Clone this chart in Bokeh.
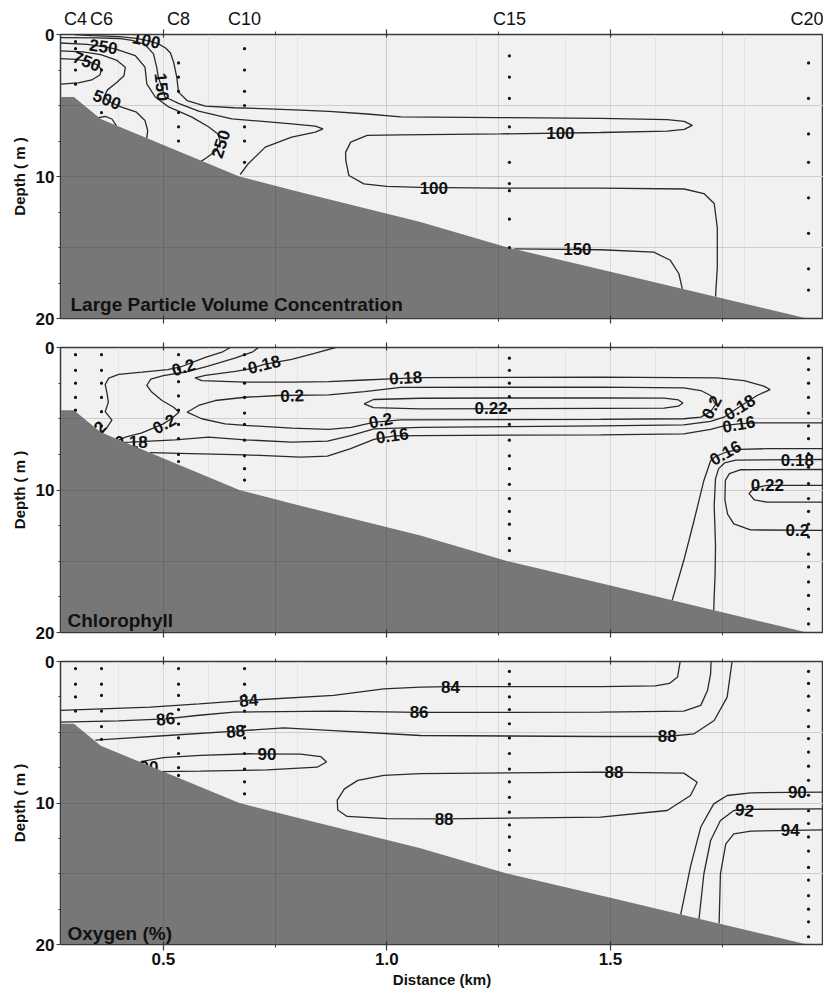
from bokeh.plotting import figure
from bokeh.models import Range1d, FixedTicker, LinearAxis, Label, Grid, NumeralTickFormatter
from bokeh.layouts import column
from bokeh.embed import file_html
from bokeh.resources import INLINE
from bokeh.core.properties import value

# ------------------------------------------------------------------ data
X_START, X_END = 0.27, 1.9765
DEPTH_MAX = 20

STATION_NAMES = ["C4", "C6", "C8", "C10", "C15", "C20"]
STATION_KM = [0.3036, 0.3617, 0.534, 0.6816, 1.274, 1.943]

BATHY_KM = [0.26, 0.30, 0.36, 0.67, 0.80, 1.075, 1.27, 1.50, 1.94, 1.99]
BATHY_DEPTH = [4.4, 4.4, 5.95, 10.0, 11.05, 13.2, 15.0, 16.7, 20.0, 20.0]

X_TICKS = [0.5, 1.0, 1.5]
X_MINOR = [0.25, 0.75, 1.25, 1.75]
X_GRID = [0.5, 0.75, 1.0, 1.25, 1.5, 1.75]
DEPTH_TICKS = [0, 10, 20]
DEPTH_MINOR = [2.5, 5, 7.5, 12.5, 15, 17.5]
DEPTH_GRID = [5, 10, 15]

# sampling depths at each station (same order as STATION_NAMES)
P1_STATION_DEPTHS = [
    [0.5, 1.0, 2.5, 3.5],
    [2.5, 5.5],
    [2.0, 3.0, 4.0, 5.5, 6.5, 7.5],
    [1.0, 2.5, 4.0, 5.0, 6.5, 7.5, 9.0],
    [1.5, 3.0, 4.5, 6.5, 9.0, 10.5, 11.0, 13.0, 15.0],
    [2.0, 4.5, 7.0, 9.0, 11.5, 14.0, 16.5, 18.0]]
P2_STATION_DEPTHS = [
    [0.5, 1.6, 2.5, 3.5, 4.4],
    [0.5, 1.6, 2.5, 3.5, 4.5, 5.5],
    [0.5, 1.5, 2.4, 3.4, 4.4, 5.4, 6.4, 7.5, 8.0],
    [0.5, 1.5, 2.5, 3.5, 4.6, 5.4, 6.5, 7.6, 8.5, 9.3],
    [0.75, 1.6, 2.5, 3.45, 4.4, 5.4, 6.5, 7.6, 8.5, 9.6, 10.6, 11.5, 12.4, 13.4, 14.25],
    [0.75, 1.55, 2.5, 3.5, 4.6, 5.5, 6.4, 7.45, 8.4, 9.55, 10.6, 11.5, 12.4, 13.3, 14.5,
     15.4, 16.45, 17.4, 18.35, 19.4]]
P3_STATION_DEPTHS = [
    [0.5, 1.6, 2.5, 3.5],
    [0.5, 1.6, 2.4, 3.5, 4.6, 5.5],
    [0.5, 1.6, 2.4, 3.4, 4.4, 5.4, 6.5, 7.5, 8.05],
    [0.5, 1.6, 2.4, 3.5, 4.6, 5.4, 6.5, 7.6, 8.5, 9.35],
    [0.7, 1.6, 2.5, 3.4, 4.4, 5.4, 6.5, 7.6, 8.5, 9.6, 10.65, 11.55, 12.4, 13.35, 14.35],
    [0.7, 1.55, 2.45, 3.45, 4.6, 5.45, 6.4, 7.4, 8.4, 9.45, 10.55, 11.45, 12.4, 13.4, 14.55,
     15.45, 16.55, 17.5, 18.4, 19.45]]

# ---- Large particle volume concentration isolines (km, depth m)
P1_100 = [(0.30, 0.0), (0.34, 0.08), (0.40, 0.15), (0.44, 0.27), (0.47, 0.47), (0.489, 0.66),
          (0.505, 0.95), (0.516, 1.3), (0.523, 1.95), (0.53, 3.0), (0.534, 4.06), (0.553, 4.65),
          (0.594, 5.05), (0.658, 5.16), (0.72, 5.22), (0.807, 5.33), (0.87, 5.42), (0.956, 5.6),
          (1.031, 5.8), (1.25, 5.85), (1.478, 5.9), (1.627, 6.0), (1.665, 6.12), (1.683, 6.4),
          (1.665, 6.68), (1.627, 6.8), (1.478, 6.9), (1.254, 7.0), (1.031, 7.07), (0.956, 7.1),
          (0.919, 7.58), (0.9076, 8.3), (0.908, 8.87), (0.915, 9.93), (0.9486, 10.52),
          (1.0, 10.7), (1.075, 10.77), (1.25, 10.82), (1.478, 10.82), (1.665, 10.88),
          (1.709, 11.2), (1.732, 11.9), (1.739, 13.6), (1.739, 16.4), (1.735, 18.46)]
P1_150_A = [(0.27, 0.22), (0.35, 0.24), (0.40, 0.28), (0.43, 0.42), (0.459, 0.7), (0.478, 1.36),
            (0.485, 2.3), (0.489, 3.0), (0.496, 3.7), (0.504, 4.4), (0.534, 4.85), (0.579, 5.4),
            (0.653, 5.94), (0.787, 6.29), (0.84, 6.45), (0.857, 6.64), (0.84, 6.88),
            (0.787, 7.23), (0.728, 7.93), (0.69, 9.1), (0.672, 9.86)]
P1_150_B = [(1.285, 15.1), (1.478, 15.16), (1.597, 15.33), (1.634, 15.9), (1.653, 16.85),
            (1.661, 17.95)]
P1_250 = [(0.27, 0.6), (0.33, 0.7), (0.366, 0.85), (0.392, 1.01), (0.437, 1.48), (0.459, 2.3),
          (0.463, 3.47), (0.482, 4.4), (0.512, 5.1), (0.564, 5.82), (0.601, 6.5), (0.622, 7.0),
          (0.628, 7.6), (0.617, 8.2), (0.596, 8.7), (0.585, 8.92)]
P1_500 = [(0.27, 1.15), (0.32, 1.22), (0.36, 1.42), (0.395, 1.8), (0.415, 2.3), (0.412, 2.9),
          (0.395, 3.4), (0.375, 3.9), (0.368, 4.35), (0.378, 4.72), (0.405, 5.1), (0.44, 5.47),
          (0.459, 6.06), (0.465, 6.76), (0.463, 7.3)]
P1_750_A = [(0.27, 1.7), (0.305, 1.75), (0.33, 1.9), (0.35, 2.1), (0.362, 2.45), (0.358, 2.85),
            (0.34, 3.2), (0.31, 3.4), (0.27, 3.5)]
P1_750_B = [(0.352, 5.88), (0.37, 5.76), (0.385, 5.95), (0.395, 6.42)]

P1_LABEL_TEXT = ["100", "250", "750", "500", "150", "250", "100", "100", "150"]
P1_LABEL_KM = [0.462, 0.366, 0.329, 0.374, 0.497, 0.628, 1.388, 1.105, 1.426]
P1_LABEL_DEPTH = [0.40, 0.85, 1.88, 4.58, 3.7, 7.7, 6.95, 10.82, 15.12]
P1_LABEL_ANGLE = [-12, -8, -22, -22, -84, 72, 0, 0, 0]

# ---- Chlorophyll isolines
P2_020_A = [(0.65, 0.0), (0.631, 0.33), (0.594, 0.7), (0.565, 1.05), (0.54, 1.35), (0.51, 1.55),
            (0.452, 1.73), (0.40, 1.88), (0.378, 2.15), (0.37, 2.6), (0.374, 3.2),
            (0.377, 3.84), (0.37, 4.5), (0.385, 5.1), (0.374, 5.6), (0.362, 6.05)]
P2_020_B = [(0.713, 0.0), (0.70, 0.3), (0.66, 0.75), (0.60, 1.3), (0.55, 1.72), (0.50, 1.97),
            (0.472, 2.22), (0.463, 2.65), (0.474, 3.13), (0.497, 3.72), (0.523, 4.19),
            (0.535, 4.54), (0.52, 4.95), (0.50, 5.36), (0.452, 5.99), (0.415, 6.29), (0.40, 6.5)]
P2_018_A = [(0.885, 0.0), (0.84, 0.4), (0.787, 0.84), (0.7256, 1.19), (0.694, 1.5),
            (0.661, 1.68), (0.594, 1.96), (0.571, 2.13), (0.586, 2.32), (0.683, 2.43),
            (0.787, 2.43), (0.87, 2.39), (0.95, 2.28), (1.008, 2.2), (1.075, 2.12),
            (1.478, 2.08), (1.739, 2.13), (1.799, 2.32), (1.843, 2.71), (1.857, 2.95),
            (1.828, 3.37), (1.787, 4.19), (1.754, 4.89), (1.724, 5.19), (1.664, 5.43),
            (1.478, 5.5), (1.075, 5.6), (0.971, 5.71), (0.919, 6.18), (0.867, 6.57),
            (0.787, 6.64), (0.683, 6.48), (0.601, 6.29), (0.5265, 6.48), (0.426, 6.64),
            (0.41, 6.66)]
P2_020_LENS = [(0.553, 4.54), (0.5788, 4.07), (0.616, 3.72), (0.683, 3.49), (0.758, 3.37),
               (0.87, 3.32), (0.95, 3.1), (1.031, 2.8), (1.478, 2.78), (1.664, 2.83),
               (1.702, 3.02), (1.724, 3.37), (1.735, 4.0), (1.724, 4.5), (1.702, 4.89),
               (1.664, 5.0), (1.478, 5.05), (1.031, 5.08), (0.97, 5.25), (0.92, 5.6),
               (0.87, 5.75), (0.7875, 5.66), (0.683, 5.47), (0.638, 5.36), (0.586, 5.0),
               (0.553, 4.54)]
P2_022_LENS = [(0.949, 3.95), (0.97, 3.65), (1.075, 3.56), (1.478, 3.53), (1.62, 3.55),
               (1.652, 3.68), (1.662, 3.9), (1.652, 4.12), (1.62, 4.25), (1.478, 4.27),
               (1.075, 4.3), (0.97, 4.22), (0.949, 3.95)]
P2_016_A = [(0.47, 7.38), (0.56, 7.45), (0.683, 7.53), (0.807, 7.7), (0.867, 7.62),
            (0.919, 7.1), (0.971, 6.45), (1.016, 6.2), (1.075, 6.18), (1.478, 6.13),
            (1.664, 6.06), (1.724, 5.75), (1.758, 5.47), (1.787, 5.36), (1.821, 5.29),
            (1.977, 5.29)]
P2_016_B = [(1.977, 7.1), (1.85, 7.1), (1.79, 7.15), (1.758, 7.35), (1.735, 7.65),
            (1.724, 7.95), (1.709, 9.33), (1.687, 12.14), (1.664, 14.95), (1.638, 17.75)]
P2_018_B = [(1.977, 7.86), (1.78, 7.9), (1.755, 8.1), (1.742, 8.5), (1.735, 9.2),
            (1.732, 11.1), (1.735, 13.9), (1.734, 16.0), (1.732, 17.5), (1.731, 18.45)]
P2_020_C = [(1.977, 8.56), (1.79, 8.58), (1.766, 8.85), (1.757, 9.33), (1.756, 10.7),
            (1.762, 11.7), (1.776, 12.37), (1.813, 12.8), (1.977, 12.84)]
P2_022_B = [(1.977, 9.68), (1.85, 9.68), (1.822, 9.85), (1.81, 10.25), (1.822, 10.7),
            (1.85, 10.85), (1.977, 10.85)]

P2_LABEL_TEXT = ["0.2", "0.18", "0.2", "0.18", "0.2", "0.2", "0.16", "0.22", "0.2", "0.18",
                 "0.16", "0.16", "0.18", "0.22", "0.2"]
P2_LABEL_KM = [0.545, 0.7256, 0.788, 1.042, 0.502, 0.986, 1.012, 1.233, 1.726, 1.789, 1.787,
               1.757, 1.918, 1.851, 1.918]
P2_LABEL_DEPTH = [1.38, 1.19, 3.37, 2.12, 5.36, 5.12, 6.18, 4.28, 4.19, 4.19, 5.38, 7.39,
                  7.88, 9.66, 12.84]
P2_LABEL_ANGLE = [18, 14, 2, 3, 29, 12, 8, 0, 62, 32, 10, 30, 0, 0, 0]
P2_HIDDEN_TEXT = ["0.18", "0.2"]
P2_HIDDEN_KM = [0.428, 0.347]
P2_HIDDEN_DEPTH = [6.64, 5.95]
P2_HIDDEN_ANGLE = [0, 45]

# ---- Oxygen isolines
P3_84 = [(0.27, 3.46), (0.471, 3.23), (0.58, 3.0), (0.68, 2.76), (0.881, 2.4), (0.993, 1.93),
         (1.075, 1.81), (1.142, 1.77), (1.478, 1.77), (1.60, 1.72), (1.632, 1.55),
         (1.65, 1.1), (1.656, 0.0)]
P3_86 = [(0.27, 4.29), (0.40, 4.2), (0.505, 4.05), (0.58, 3.8), (0.658, 3.58), (0.881, 3.51),
         (1.072, 3.6), (1.478, 3.58), (1.664, 3.51), (1.702, 3.1), (1.717, 2.05),
         (1.724, 0.87), (1.725, 0.0)]
P3_88_A = [(0.348, 5.55), (0.40, 5.45), (0.5086, 5.23), (0.6615, 4.92), (0.77, 4.69),
           (0.881, 4.88), (1.075, 5.23), (1.478, 5.3), (1.627, 5.3), (1.687, 5.11),
           (1.732, 4.17), (1.761, 2.52), (1.772, 0.0)]
P3_90_A = [(0.449, 7.08), (0.50, 6.8), (0.583, 6.64), (0.695, 6.52), (0.807, 6.55),
           (0.852, 6.72), (0.865, 7.1), (0.844, 7.47), (0.732, 7.66), (0.583, 7.75),
           (0.494, 7.78)]
P3_88_B = [(1.075, 7.93), (0.993, 8.05), (0.935, 8.4), (0.905, 9.0), (0.889, 9.8),
           (0.89, 10.5), (0.911, 10.95), (1.0, 11.1), (1.128, 11.12), (1.478, 11.0),
           (1.627, 10.53), (1.679, 9.47), (1.694, 8.53), (1.664, 7.89), (1.478, 7.82),
           (1.075, 7.93)]
P3_90_B = [(1.977, 9.23), (1.814, 9.28), (1.761, 9.47), (1.731, 10.06), (1.702, 11.7),
           (1.679, 14.5), (1.657, 17.9)]
P3_92 = [(1.977, 10.41), (1.80, 10.45), (1.776, 10.53), (1.746, 11.24), (1.724, 12.65),
         (1.709, 15.0), (1.698, 18.2)]
P3_94 = [(1.977, 11.9), (1.814, 11.99), (1.776, 12.18), (1.758, 12.89), (1.746, 15.0),
         (1.743, 18.52)]

P3_LABEL_TEXT = ["84", "84", "86", "86", "88", "88", "90", "88", "88", "90", "92", "94"]
P3_LABEL_KM = [0.691, 1.142, 0.505, 1.072, 0.6615, 1.627, 0.732, 1.508, 1.128, 1.918, 1.8, 1.902]
P3_LABEL_DEPTH = [2.74, 1.77, 4.05, 3.6, 4.92, 5.3, 6.52, 7.84, 11.12, 9.25, 10.5, 11.94]
P3_LABEL_ANGLE = [5, 0, 6, 0, 5, 0, 0, 0, 0, 0, -6, 0]
P3_HIDDEN_TEXT = ["90"]
P3_HIDDEN_KM = [0.468]
P3_HIDDEN_DEPTH = [7.45]
P3_HIDDEN_ANGLE = [0]

# ------------------------------------------------------------------ style
FONT = "Liberation Sans"
FRAME = "#3a3a3a"
LINE = "#2a2a2a"
INK = "#111111"


def tick_axis(ticker):
    return LinearAxis(ticker=ticker, major_label_text_font_size="1px",
                      major_label_text_color=None, major_label_standoff=0,
                      major_tick_in=3, major_tick_out=5, minor_tick_in=0, minor_tick_out=3,
                      axis_line_color=FRAME, major_tick_line_color=FRAME,
                      minor_tick_line_color=FRAME, major_tick_line_width=1.2)


def make_panel(lines, lab, hidden, depths, title, title_xy, height, top, bottom, last):
    p = figure(width=823, height=height,
               x_range=Range1d(X_START, X_END), y_range=Range1d(DEPTH_MAX, 0),
               output_backend="svg", toolbar_location=None,
               x_axis_location=None, y_axis_location=None,
               min_border_left=60, min_border_right=0,
               min_border_top=top, min_border_bottom=bottom)
    p.background_fill_color = "#f1f1f1"
    p.border_fill_color = "white"
    p.outline_line_color = FRAME
    p.outline_line_width = 1.5

    p.multi_line([[q[0] for q in ln] for ln in lines], [[q[1] for q in ln] for ln in lines],
                 line_color=LINE, line_width=1.3)

    tf = dict(text_font=value(FONT), text_font_style="bold", text_font_size="17px",
              text_align="center", text_baseline="middle", text_color=INK,
              angle_units="deg")
    if hidden:
        p.text(x=hidden[1], y=hidden[2], text=hidden[0], angle=hidden[3], **tf)

    bx = BATHY_KM + [BATHY_KM[-1], BATHY_KM[0]]
    by = BATHY_DEPTH + [DEPTH_MAX + 1, DEPTH_MAX + 1]
    p.patch(bx, by, fill_color="#777777", line_color=None)

    xs, ys = [], []
    for km, ds in zip(STATION_KM, depths):
        xs += [km] * len(ds)
        ys += ds
    p.scatter(xs, ys, size=3.2, color=INK, line_color=None)

    p.text(x=lab[1], y=lab[2], text=lab[0], angle=lab[3], **tf)

    p.add_layout(Label(x=title_xy[0], y=title_xy[1], text=title, text_font=FONT,
                       text_font_style="bold", text_font_size="19px", text_color=INK,
                       text_baseline="alphabetic"))

    p.add_layout(Grid(dimension=0, ticker=FixedTicker(ticks=X_GRID), grid_line_color="black",
                      grid_line_alpha=0.1, level="annotation"))
    p.add_layout(Grid(dimension=1, ticker=FixedTicker(ticks=DEPTH_GRID), grid_line_color="black",
                      grid_line_alpha=0.1, level="annotation"))

    ya = LinearAxis(ticker=FixedTicker(ticks=DEPTH_TICKS, minor_ticks=DEPTH_MINOR),
                    axis_label="Depth ( m )", axis_label_text_font=FONT,
                    axis_label_text_font_style="bold", axis_label_text_font_size="15px",
                    axis_label_standoff=5, axis_label_text_color=INK,
                    major_label_text_font=FONT, major_label_text_font_style="bold",
                    major_label_text_font_size="17px", major_label_text_color=INK,
                    major_label_standoff=2, major_tick_in=0, major_tick_out=4,
                    minor_tick_in=0, minor_tick_out=2,
                    axis_line_color=FRAME, major_tick_line_color=FRAME,
                    minor_tick_line_color=FRAME, major_tick_line_width=1.2)
    p.add_layout(ya, "left")

    xt = FixedTicker(ticks=X_TICKS, minor_ticks=X_MINOR)
    p.add_layout(tick_axis(xt), "above")
    if last:
        ba = LinearAxis(ticker=xt, formatter=NumeralTickFormatter(format="0.0"),
                        axis_label="Distance (km)", axis_label_text_font=FONT,
                        axis_label_text_font_style="bold", axis_label_text_font_size="15px",
                        axis_label_text_color=INK, axis_label_standoff=3,
                        major_label_text_font=FONT, major_label_text_font_style="bold",
                        major_label_text_font_size="17px", major_label_text_color=INK,
                        major_label_standoff=2, major_tick_in=3, major_tick_out=6,
                        minor_tick_in=0, minor_tick_out=3,
                        axis_line_color=FRAME, major_tick_line_color=FRAME,
                        minor_tick_line_color=FRAME, major_tick_line_width=1.2)
    else:
        ba = tick_axis(xt)
    p.add_layout(ba, "below")
    return p


p1 = make_panel([P1_100, P1_150_A, P1_150_B, P1_250, P1_500, P1_750_A, P1_750_B],
                (P1_LABEL_TEXT, P1_LABEL_KM, P1_LABEL_DEPTH, P1_LABEL_ANGLE), None,
                P1_STATION_DEPTHS, "Large Particle Volume Concentration", (0.2924, 19.0),
                332, 34, 14, False)
station_axis = LinearAxis(ticker=FixedTicker(ticks=STATION_KM),
                          major_label_overrides=dict(zip(STATION_KM, STATION_NAMES)),
                          major_label_text_font=FONT, major_label_text_font_size="18px",
                          major_label_text_color=INK, major_label_standoff=1,
                          major_tick_in=0, major_tick_out=0, axis_line_color=None,
                          major_tick_line_color=None, minor_tick_line_color=None)
p1.add_layout(station_axis, "above")

p2 = make_panel([P2_020_A, P2_020_B, P2_018_A, P2_020_LENS, P2_022_LENS, P2_016_A, P2_016_B,
                 P2_018_B, P2_020_C, P2_022_B],
                (P2_LABEL_TEXT, P2_LABEL_KM, P2_LABEL_DEPTH, P2_LABEL_ANGLE),
                (P2_HIDDEN_TEXT, P2_HIDDEN_KM, P2_HIDDEN_DEPTH, P2_HIDDEN_ANGLE),
                P2_STATION_DEPTHS, "Chlorophyll", (0.2857, 19.16), 314, 15, 14, False)

p3 = make_panel([P3_84, P3_86, P3_88_A, P3_90_A, P3_88_B, P3_90_B, P3_92, P3_94],
                (P3_LABEL_TEXT, P3_LABEL_KM, P3_LABEL_DEPTH, P3_LABEL_ANGLE),
                (P3_HIDDEN_TEXT, P3_HIDDEN_KM, P3_HIDDEN_DEPTH, P3_HIDDEN_ANGLE),
                P3_STATION_DEPTHS, "Oxygen (%)", (0.2857, 19.2), 345, 15, 47, True)

layout = column(p1, p2, p3, spacing=0)
open("out.html", "w").write(file_html(layout, INLINE))
